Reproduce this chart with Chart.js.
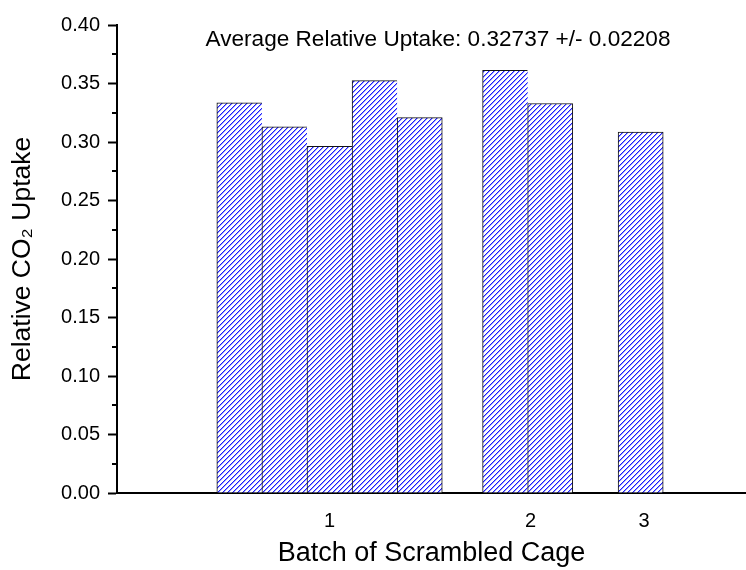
<!DOCTYPE html>
<html>
<head>
<meta charset="utf-8">
<script src="https://cdn.jsdelivr.net/npm/chart.js@4/dist/chart.umd.min.js"></script>
<style>
  html, body { margin: 0; padding: 0; background: #ffffff; }
  #wrap { width: 746px; height: 570px; }
</style>
</head>
<body>
<div id="wrap"><canvas id="chart" width="746" height="570"></canvas></div>
<script>
// Relative CO2 uptake of each scrambled cage, grouped by batch
const batchOfCage    = [1, 1, 1, 1, 1, 2, 2, 3];
const relativeUptake = [0.3335, 0.3130, 0.2964, 0.3525, 0.3209, 0.3613, 0.3329, 0.3085];
const batchLabels    = ['1', '2', '3'];
const yTickValues    = [0, 0.05, 0.10, 0.15, 0.20, 0.25, 0.30, 0.35, 0.40];
const summaryText    = 'Average Relative Uptake: 0.32737 +/- 0.02208';

// Layout of the x axis, measured in bar widths
const groupCentre  = [4.714, 9.108, 11.614];   // centre of each batch group
const labelCentre  = [4.714, 9.17, 11.69];     // where each batch label sits
const xRange = { min: 0, max: 13.95 };

const FONT = '"Liberation Sans", Arial, Helvetica, sans-serif';

// place each cage's bar side by side inside its batch group
const points = relativeUptake.map((value, i) => {
  const b = batchOfCage[i];
  const members = [];
  batchOfCage.forEach((v, j) => { if (v === b) members.push(j); });
  const k = members.indexOf(i);
  return { x: groupCentre[b - 1] + k - (members.length - 1) / 2, y: value };
});

// diagonal blue hatch fill
function makeHatch() {
  const p = 5;
  const tile = document.createElement('canvas');
  tile.width = p; tile.height = p;
  const t = tile.getContext('2d');
  t.fillStyle = '#ffffff';
  t.fillRect(0, 0, p, p);
  for (let i = 0; i < p; i++) {
    t.fillStyle = '#1a1aff';
    t.fillRect(i, p - 1 - i, 1, 1);
    t.fillStyle = '#9a9aff';
    t.fillRect(i, (p - i) % p, 1, 1);
  }
  return document.getElementById('chart').getContext('2d').createPattern(tile, 'repeat');
}

const minorTicks = {
  id: 'minorTicks',
  afterDraw(chart) {
    const y = chart.scales.y;
    const ctx = chart.ctx;
    const left = chart.chartArea.left;
    ctx.save();
    ctx.strokeStyle = '#000';
    ctx.lineWidth = 2;
    for (let i = 0; i < yTickValues.length - 1; i++) {
      const v = (yTickValues[i] + yTickValues[i + 1]) / 2;
      const py = Math.round(y.getPixelForValue(v));
      ctx.beginPath();
      ctx.moveTo(left - 5, py);
      ctx.lineTo(left, py);
      ctx.stroke();
    }
    ctx.restore();
  }
};

const summaryLabel = {
  id: 'summaryLabel',
  afterDraw(chart) {
    const { ctx, chartArea } = chart;
    ctx.save();
    ctx.font = '22.6px ' + FONT;
    ctx.fillStyle = '#000';
    ctx.textAlign = 'center';
    ctx.textBaseline = 'alphabetic';
    ctx.fillText(summaryText, chartArea.left + 321, chartArea.top + 21);
    ctx.restore();
  }
};

new Chart(document.getElementById('chart'), {
  type: 'bar',
  data: {
    datasets: [{
      data: points,
      backgroundColor: makeHatch(),
      borderColor: '#111111',
      borderWidth: (c) => {
        const i = c.dataIndex;
        const last = i === batchOfCage.length - 1 || batchOfCage[i + 1] !== batchOfCage[i];
        return { top: 1, left: 1, right: last ? 1 : 0, bottom: 0 };
      },
      barPercentage: 1,
      categoryPercentage: 1
    }]
  },
  options: {
    responsive: false,
    animation: false,
    devicePixelRatio: 1,
    layout: { padding: { top: 25, left: 0, right: 0, bottom: 0 } },
    plugins: { legend: { display: false }, tooltip: { enabled: false } },
    scales: {
      x: {
        type: 'linear',
        offset: false,
        min: xRange.min,
        max: xRange.max,
        grid: { display: true, offset: false, drawOnChartArea: false, drawTicks: false },
        border: { display: true, color: '#000', width: 2 },
        afterBuildTicks: (s) => { s.ticks = labelCentre.map(v => ({ value: v })); },
        afterFit: (s) => { s.height = 77; },
        ticks: {
          color: '#000',
          padding: 16.5,
          font: { family: FONT, size: 20 },
          callback: (v, i) => batchLabels[i]
        },
        title: {
          display: true,
          text: 'Batch of Scrambled Cage',
          color: '#000',
          font: { family: FONT, size: 27 },
          padding: { top: 7.4, bottom: 0 }
        }
      },
      y: {
        type: 'linear',
        min: 0,
        max: 0.4,
        grid: { drawOnChartArea: false, drawTicks: true, tickLength: 9, tickWidth: 2, tickColor: '#000' },
        border: { display: true, color: '#000', width: 2 },
        afterBuildTicks: (s) => { s.ticks = yTickValues.map(v => ({ value: v })); },
        afterFit: (s) => { s.width = 117; },
        ticks: {
          color: '#000',
          padding: 8,
          font: { family: FONT, size: 20 },
          callback: (v) => Number(v).toFixed(2)
        },
        title: {
          display: true,
          text: 'Relative CO\u2082 Uptake',
          color: '#000',
          font: { family: FONT, size: 26.5 },
          padding: { top: 7, bottom: 0 }
        }
      }
    }
  },
  plugins: [minorTicks, summaryLabel]
});
</script>
</body>
</html>
